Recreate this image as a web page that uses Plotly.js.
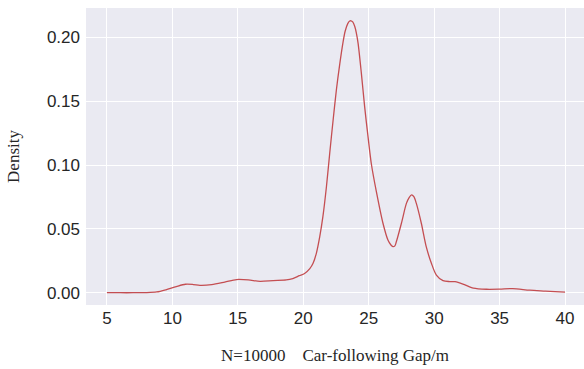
<!DOCTYPE html>
<html>
<head>
<meta charset="utf-8">
<script src="https://cdn.plot.ly/plotly-3.0.1.min.js"></script>
<style>html,body{margin:0;padding:0;background:#fff;}#chart{width:584px;height:369px;}</style>
</head>
<body>
<div id="chart"></div>
<script>
const gap = [5, 6, 7, 8, 8.8, 9.5, 10.3, 11, 11.6, 12.1, 13, 14, 14.9, 15.8, 16.7, 17.7, 18.7, 19.2, 19.7, 20.1, 20.5, 20.75, 21.0, 21.26, 21.5, 21.77, 22.02, 22.28, 22.53, 22.79, 23.04, 23.2, 23.4, 23.55, 23.65, 23.78, 23.93, 24.05, 24.19, 24.44, 24.69, 24.95, 25.2, 25.59, 26.09, 26.47, 26.7, 26.85, 27.0, 27.11, 27.5, 27.88, 28.1, 28.28, 28.45, 28.64, 29.02, 29.4, 29.79, 30.17, 30.68, 31.2, 31.6, 32.2, 33.0, 34.0, 35.0, 36.0, 37.3, 38.5, 40];
const density = [0.0002, 0.0002, 0.0002, 0.0003, 0.0008, 0.0025, 0.005, 0.0068, 0.0066, 0.006, 0.0065, 0.0085, 0.0105, 0.0102, 0.0091, 0.0097, 0.0102, 0.0113, 0.0135, 0.0152, 0.019, 0.0232, 0.031, 0.044, 0.0596, 0.083, 0.109, 0.135, 0.1586, 0.179, 0.196, 0.2045, 0.2105, 0.2125, 0.2127, 0.2118, 0.2085, 0.2035, 0.195, 0.1716, 0.1456, 0.122, 0.101, 0.079, 0.0545, 0.0414, 0.0375, 0.0362, 0.0368, 0.040, 0.0545, 0.070, 0.0748, 0.0766, 0.0752, 0.070, 0.0545, 0.036, 0.0232, 0.014, 0.0096, 0.0089, 0.0088, 0.007, 0.0038, 0.0029, 0.003, 0.0034, 0.0022, 0.0015, 0.0006];
const xTicks = [5, 10, 15, 20, 25, 30, 35, 40];
const yTicks = [0, 0.05, 0.10, 0.15, 0.20];
const yTickText = ['0.00', '0.05', '0.10', '0.15', '0.20'];

Plotly.newPlot('chart', [{
  x: gap, y: density, type: 'scatter', mode: 'lines',
  line: {color: '#C44E52', width: 1.3, shape: 'spline', smoothing: 0.8},
  hoverinfo: 'none'
}], {
  width: 584, height: 369,
  margin: {l: 86, r: 0, t: 8, b: 64},
  paper_bgcolor: '#ffffff',
  plot_bgcolor: '#EAEAF2',
  showlegend: false,
  xaxis: {
    range: [3.4, 41.45], tickvals: xTicks, ticktext: xTicks.map(String),
    showgrid: true, gridcolor: '#ffffff', gridwidth: 1, zeroline: false, showline: false,
    ticks: '', ticklabelstandoff: 1,
    tickfont: {family: 'Liberation Sans, Arial, sans-serif', size: 17, color: '#262626'},
    title: {text: 'N=10000    Car-following Gap/m', standoff: 22,
      font: {family: 'Liberation Serif, Times New Roman, serif', size: 17, color: '#262626'}}
  },
  yaxis: {
    range: [-0.0094, 0.2227], tickvals: yTicks, ticktext: yTickText,
    showgrid: true, gridcolor: '#ffffff', gridwidth: 1, zeroline: false, showline: false,
    ticks: '', ticklabelstandoff: 5,
    tickfont: {family: 'Liberation Sans, Arial, sans-serif', size: 17, color: '#262626'},
    title: {text: 'Density', standoff: 22,
      font: {family: 'Liberation Serif, Times New Roman, serif', size: 17, color: '#262626'}}
  }
}, {staticPlot: true});
</script>
</body>
</html>
